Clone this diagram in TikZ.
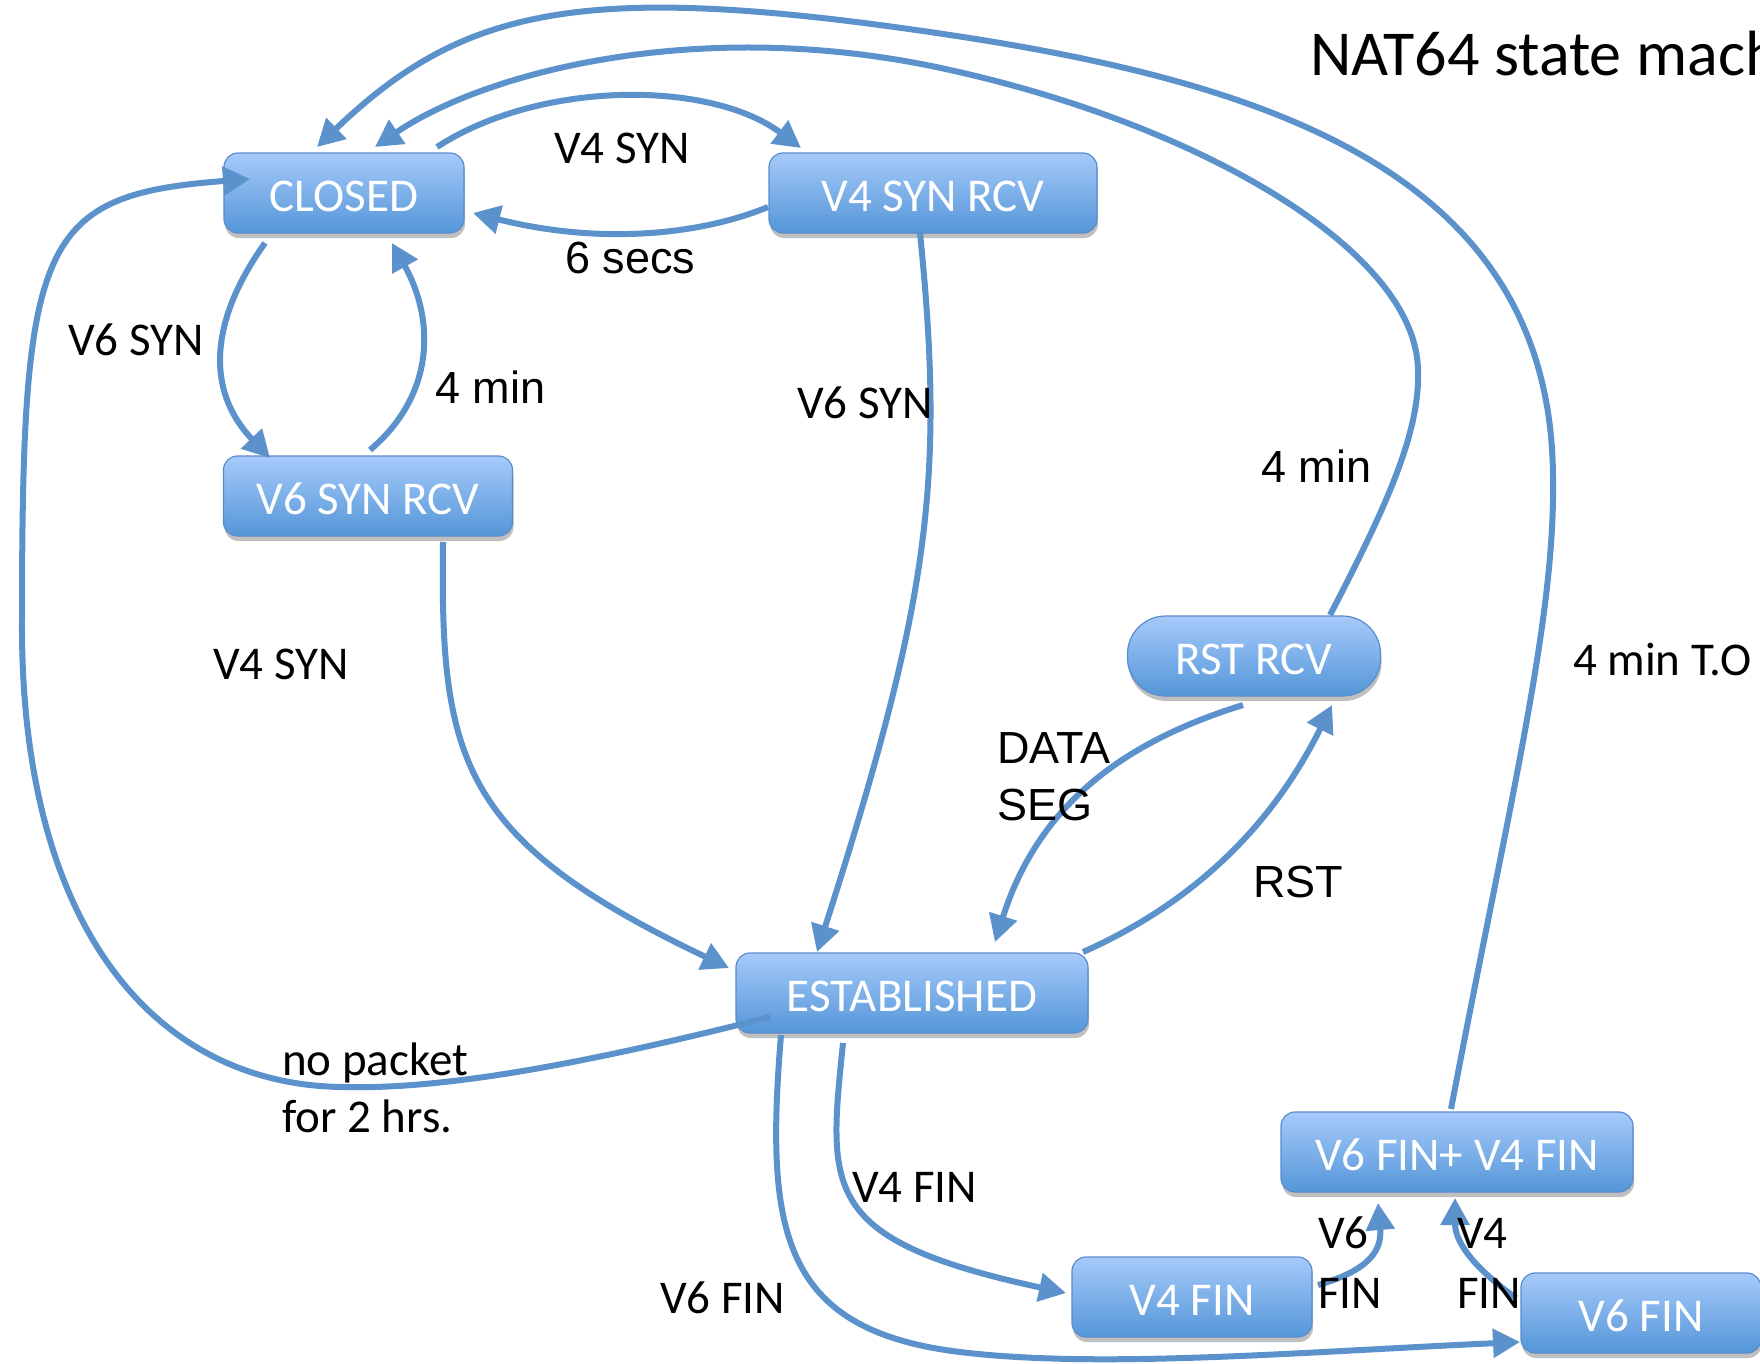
\documentclass[tikz,border=0pt]{standalone}
\usepackage{fontspec}
\setmainfont{Carlito}
\newfontfamily\arialf{Liberation Sans}
\usetikzlibrary{arrows.meta,shadows,calc}
\definecolor{edgeblue}{RGB}{92,146,204}
\definecolor{boxtop}{RGB}{166,202,250}
\definecolor{boxbot}{RGB}{84,150,216}
\definecolor{boxline}{RGB}{90,140,205}
\begin{document}
\begin{tikzpicture}[x=1pt,y=-1pt,
 state/.style={rectangle, rounded corners=14pt, draw=boxline, line width=1.2pt,
   top color=boxtop, bottom color=boxbot, text=white,
   font=\fontsize{47}{56}\selectfont, minimum height=80pt, inner sep=0pt,
   text height=37pt, text depth=0pt,
   drop shadow={shadow xshift=1pt, shadow yshift=-5pt, opacity=0.25, fill=black}},
 lbl/.style={anchor=base west, inner sep=0pt, font=\fontsize{47}{56}\selectfont},
 albl/.style={anchor=base west, inner sep=0pt, font=\arialf\fontsize{45}{54}\selectfont},
 conn/.style={draw=edgeblue, line width=6pt, -{Triangle[length=27pt,width=28pt]}},
]
\path[use as bounding box] (0,0) rectangle (1760,1363);
\fill[white] (0,0) rectangle (1760,1363);
\clip (0,0) rectangle (1760,1363);

% states
\node[state, minimum width=240pt] (closed) at (344,193) {CLOSED};
\node[state, minimum width=328pt] (v4rcv) at (933,193) {V4 SYN RCV};
\node[state, minimum width=289pt] (v6rcv) at (368,496) {V6 SYN RCV};
\node[state, minimum width=253pt, rounded corners=38pt] (rst) at (1254,656) {RST RCV};
\node[state, minimum width=352pt] (est) at (912,993) {ESTABLISHED};
\node[state, minimum width=240pt] (v4fin) at (1192,1297) {V4 FIN};
\node[state, minimum width=352pt] (both) at (1457,1152) {V6 FIN+ V4 FIN};
\node[state, minimum width=240pt] (v6fin) at (1641,1313) {V6 FIN};

% title
\node[anchor=base west, inner sep=0pt, font=\fontsize{64}{76}\selectfont] (title) at (1310,75) {NAT64 state machine};

% connectors
\draw[conn] ($(closed)+(93,-46)$) .. controls (540,80) and (710,80) .. ($(v4rcv)+(-132,-45)$);
\draw[conn] ($(v4rcv)+(-165,14)$) .. controls (700,235) and (600,245) .. ($(closed)+(129,20)$);
\draw[conn] ($(closed)+(-79,50)$) .. controls (210,320) and (205,390) .. ($(v6rcv)+(-98,-38)$);
\draw[conn] ($(v6rcv)+(2,-46)$) .. controls (435,395) and (435,320) .. ($(closed)+(48,50)$);
\draw[conn] ($(v4rcv)+(-13,40)$) .. controls (945,480) and (930,600) .. ($(est)+(-95,-41)$);
\draw[conn] ($(v6rcv)+(75,46)$) .. controls (440,760) and (460,840) .. ($(est)+(-183,-25)$);
\draw[conn] ($(est)+(-142,24)$) .. controls (600,1060) and (450,1090) .. (343,1087)
   .. controls (150,1085) and (20,920) .. (22,620)
   .. controls (22,240) and (39,195) .. ($(closed)+(-94,-14)$);
\draw[conn] ($(est)+(171,-41)$) .. controls (1200,900) and (1275,820) .. ($(rst)+(78,49)$);
\draw[conn] ($(rst)+(-11,49)$) .. controls (1130,740) and (1040,800) .. ($(est)+(83,-51)$);
\draw[conn] ($(rst)+(76,-41)$) .. controls (1390,500) and (1420,430) .. (1418,370)
   .. controls (1416,250) and (1199,125) .. (950,70)
   .. controls (701,14) and (483,73) .. ($(closed)+(31,-46)$);
\draw[conn] ($(both)+(-6,-43)$) .. controls (1510,800) and (1555,620) .. (1553,480)
   .. controls (1553,180) and (1282,85) .. (950,35)
   .. controls (585,-20) and (464,6) .. ($(closed)+(-27,-46)$);
\draw[conn] ($(est)+(-69,50)$) .. controls (828,1190) and (820,1240) .. ($(v4fin)+(-126,-4)$);
\draw[conn] ($(est)+(-131,42)$) .. controls (765,1230) and (780,1330) .. (960,1352)
   .. controls (1100,1369) and (1300,1352) .. ($(v6fin)+(-121,29)$);
\draw[conn] ($(v4fin)+(126,-12)$) .. controls (1370,1270) and (1382,1250) .. ($(both)+(-79,51)$);
\draw[conn] ($(v6fin)+(-125,-15)$) .. controls (1470,1265) and (1455,1240) .. ($(both)+(-2,46)$);

% labels
\node[lbl] (l1) at (554,163) {V4 SYN};
\node[albl] (l2) at (565,273) {6 secs};
\node[lbl] (l3) at (68,355) {V6 SYN};
\node[albl] (l4) at (435,403) {4 min};
\node[lbl] (l5) at (797,418) {V6 SYN};
\node[albl] (l6) at (1261,482) {4 min};
\node[lbl] (l7) at (213,679) {V4 SYN};
\node[lbl] (l8) at (1573,675) {4 min T.O};
\node[albl] (l9) at (997,763) {DATA};
\node[albl] (l10) at (997,820) {SEG};
\node[albl] (l11) at (1253,897) {RST};
\node[lbl] (l12) at (282,1075) {no packet};
\node[lbl] (l13) at (282,1132) {for 2 hrs.};
\node[lbl] (l14) at (852,1202) {V4 FIN};
\node[lbl] (l15) at (660,1313) {V6 FIN};
\node[lbl] (l16) at (1318,1248) {V6};
\node[lbl] (l17) at (1318,1308) {FIN};
\node[lbl] (l18) at (1457,1248) {V4};
\node[lbl] (l19) at (1457,1308) {FIN};
\end{tikzpicture}
\end{document}
